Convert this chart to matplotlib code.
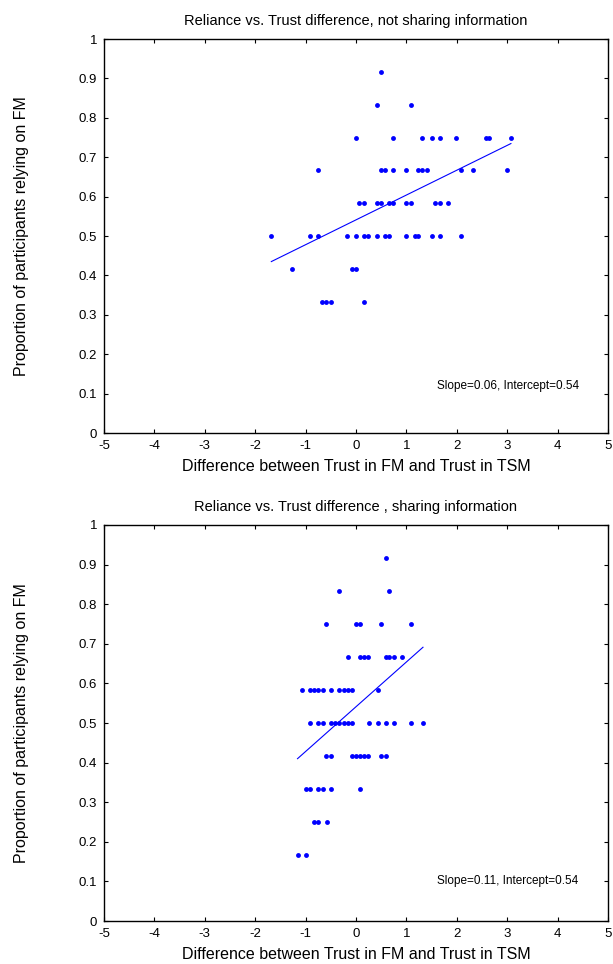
import numpy as np
import matplotlib
matplotlib.use('Agg')
import matplotlib.pyplot as plt

plt.rcParams['font.family'] = ['Liberation Sans', 'DejaVu Sans']

# Top panel: not sharing information (x = trust difference, grouped by proportion row)
top_rows = {
    11 / 12: [0.49],
    10 / 12: [0.42, 1.085],
    9 / 12: [0.0, 0.735, 1.316, 1.50, 1.66, 1.99, 2.58, 2.645, 3.075],
    8 / 12: [-0.75, 0.49, 0.57, 0.735, 1.0, 1.24, 1.32, 1.40, 2.08, 2.33, 3.0],
    7 / 12: [0.066, 0.165, 0.41, 0.49, 0.65, 0.74, 0.99, 1.085, 1.57, 1.66, 1.825],
    6 / 12: [-1.68, -0.92, -0.75, -0.18, 0.0, 0.165, 0.24, 0.41, 0.575, 0.65,
             0.99, 1.165, 1.24, 1.50, 1.66, 2.08],
    5 / 12: [-1.26, -0.085, 0.0],
    4 / 12: [-0.67, -0.59, -0.50, 0.165],
}
top_slope, top_intercept = 0.063, 0.541

# Bottom panel: sharing information
bot_rows = {
    11 / 12: [0.595],
    10 / 12: [-0.33, 0.66],
    9 / 12: [-0.59, 0.0, 0.08, 0.495, 1.10],
    8 / 12: [-0.165, 0.08, 0.165, 0.245, 0.59, 0.66, 0.76, 0.92],
    7 / 12: [-1.08, -0.91, -0.83, -0.75, -0.66, -0.50, -0.33, -0.24, -0.165, -0.08, 0.43],
    6 / 12: [-0.91, -0.75, -0.66, -0.50, -0.41, -0.33, -0.24, -0.165, -0.08,
             0.25, 0.43, 0.595, 0.76, 1.10, 1.33],
    5 / 12: [-0.59, -0.50, -0.08, 0.0, 0.08, 0.165, 0.245, 0.495, 0.59],
    4 / 12: [-1.0, -0.91, -0.75, -0.66, -0.50, 0.085],
    3 / 12: [-0.83, -0.75, -0.58],
    2 / 12: [-1.16, -1.0],
}
bot_slope, bot_intercept = 0.113, 0.541

titles = ['Reliance vs. Trust difference, not sharing information',
          'Reliance vs. Trust difference , sharing information']
notes = ['Slope=0.06, Intercept=0.54', 'Slope=0.11, Intercept=0.54']
note_y = [0.12, 0.10]
xlabel = 'Difference between Trust in FM and Trust in TSM'
ylabel = 'Proportion of participants relying on FM'
xticks = np.arange(-5, 6)
yticks = np.round(np.arange(0, 1.01, 0.1), 1)
ytick_labels = ['0'] + ['%.1f' % v for v in yticks[1:-1]] + ['1']

fig = plt.figure(figsize=(6.13, 9.64), dpi=100)
ax_top = fig.add_axes([0.1697, 0.5508, 0.822, 0.4087])
ax_bot = fig.add_axes([0.1697, 0.0446, 0.822, 0.4108])

panels = [(ax_top, top_rows, top_slope, top_intercept),
          (ax_bot, bot_rows, bot_slope, bot_intercept)]

for i, (ax, rows, slope, intercept) in enumerate(panels):
    xs = np.concatenate([np.array(v) for v in rows.values()])
    ys = np.concatenate([np.full(len(v), k) for k, v in rows.items()])
    ax.plot(xs, ys, '.', color='#0000ff', markersize=7, markeredgewidth=0)
    xf = np.array([xs.min(), xs.max()])
    ax.plot(xf, intercept + slope * xf, '-', color='#0000ff', linewidth=0.8)
    ax.set_xlim(-5, 5)
    ax.set_ylim(0, 1)
    ax.set_xticks(xticks)
    ax.set_xticklabels([str(t) for t in xticks])
    ax.set_yticks(yticks)
    ax.set_yticklabels(ytick_labels)
    ax.tick_params(direction='in', top=True, right=True, labelsize=9.5,
                   length=3, width=0.8, pad=5)
    for s in ax.spines.values():
        s.set_linewidth(1.0)
    ax.set_title(titles[i], fontsize=10.5, pad=10)
    ax.set_xlabel(xlabel, fontsize=11.5, labelpad=5)
    ax.set_ylabel(ylabel, fontsize=11.5, labelpad=36)
    ax.text(1.6, note_y[i], notes[i], fontsize=8.5, ha='left', va='center')

plt.savefig('out.png', dpi=100)
